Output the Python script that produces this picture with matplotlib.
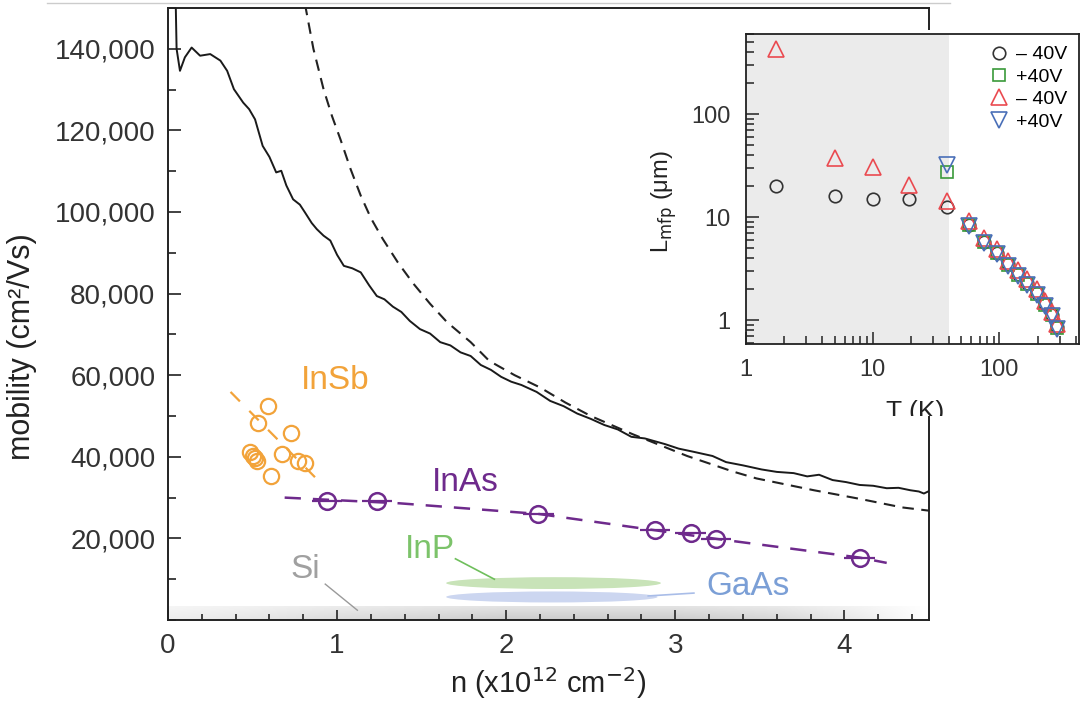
import numpy as np
import matplotlib.pyplot as plt
from matplotlib.patches import Ellipse, Rectangle
from matplotlib.lines import Line2D
from matplotlib.ticker import MultipleLocator, FuncFormatter, NullFormatter, LogLocator
from matplotlib.transforms import Bbox, TransformedBbox

plt.rcParams['font.family'] = ['Liberation Sans', 'DejaVu Sans']

# measured mobility vs carrier density (solid curve)
n_meas = [0.046, 0.051, 0.071, 0.10, 0.14, 0.19, 0.25, 0.31, 0.35, 0.39, 0.445, 0.48,
          0.515, 0.56, 0.60, 0.64, 0.67, 0.70, 0.74, 0.78, 0.81, 0.85, 0.88, 0.92,
          0.96, 1.00, 1.04, 1.09, 1.14, 1.19, 1.235, 1.28, 1.33, 1.38, 1.43, 1.49,
          1.55, 1.61, 1.67, 1.73, 1.79, 1.85, 1.91, 1.97, 2.03, 2.09, 2.18, 2.26,
          2.34, 2.42, 2.50, 2.58, 2.66, 2.74, 2.82, 2.94, 3.02, 3.10, 3.22, 3.30,
          3.40, 3.51, 3.60, 3.70, 3.78, 3.85, 3.93, 4.01, 4.09, 4.17, 4.25, 4.32,
          4.39, 4.44, 4.47, 4.50]
mu_meas = [151000, 140000, 134600, 137900, 140300, 138300, 138700, 137100, 134600,
           130100, 126800, 125200, 122700, 116200, 113500, 109700, 110100, 106500,
           103100, 101800, 99900, 97300, 95800, 94200, 93000, 89500, 86800, 86200,
           85200, 82000, 79400, 78600, 76800, 75500, 73300, 71300, 70200, 68100,
           67300, 65600, 64700, 62500, 61300, 59600, 58400, 57600, 55900, 53700,
           52400, 50600, 49300, 47800, 46700, 44900, 44500, 43100, 42000, 41300,
           40200, 38700, 37900, 36900, 36300, 36000, 35200, 35600, 34300, 33800,
           33100, 32900, 32300, 32400, 31800, 31500, 31000, 31600]

# model curve (dashed)
n_model = [0.81, 0.86, 0.92, 0.97, 1.02, 1.08, 1.14, 1.20, 1.27, 1.36, 1.45, 1.55,
           1.65, 1.79, 1.90, 2.05, 2.20, 2.35, 2.50, 2.75, 3.07, 3.34, 3.48, 3.82,
           4.09, 4.34, 4.50]
mu_model = [151000, 140000, 130100, 123500, 117800, 110500, 104000, 98500, 93400,
            87600, 82500, 77500, 73000, 68100, 63500, 60000, 57000, 53300, 50000,
            45500, 40200, 36400, 34700, 31800, 29700, 27600, 26800]

# InAs
n_inas = [0.94, 1.235, 2.19, 2.88, 3.09, 3.24, 4.09]
mu_inas = [29200, 29200, 26000, 22000, 21400, 19800, 15300]
n_inas_line = [0.69, 1.37, 2.19, 2.88, 3.24, 4.09, 4.25]
mu_inas_line = [30000, 28600, 26000, 22000, 19900, 15300, 14000]

# InSb
n_insb = [0.594, 0.534, 0.73, 0.485, 0.515, 0.525, 0.50, 0.673, 0.771, 0.81, 0.61]
mu_insb = [52500, 48400, 45900, 41100, 39800, 39000, 40300, 40700, 39000, 38600, 35300]
n_insb_line = [0.37, 0.91]
mu_insb_line = [55900, 33300]

# inset: mean free path vs temperature
T_low = [1.72, 5.04, 10.0, 19.5, 38.4]
T_high = [58, 75, 95, 116, 141, 166, 197, 229, 259, 283]
circ_low = [20.0, 16.2, 15.1, 15.1, 12.7]
circ_high = [8.5, 5.8, 4.55, 3.5, 2.8, 2.3, 1.85, 1.43, 1.14, 0.86]
tri_up_low = [430, 37.8, 31.0, 20.6, 14.5]
tri_up_high = [9.3, 6.3, 4.95, 3.8, 3.05, 2.5, 2.0, 1.55, 1.22, 0.93]
T_pos = [38.4] + T_high
square_v = [27.4, 8.4, 5.7, 4.5, 3.45, 2.75, 2.25, 1.8, 1.4, 1.12, 0.85]
tri_down_v = [32.5, 8.2, 5.6, 4.4, 3.4, 2.7, 2.22, 1.78, 1.38, 1.1, 0.83]

fig = plt.figure(figsize=(10.85, 7.06), dpi=100)
ax = fig.add_axes([0.1548, 0.1218, 0.7014, 0.8669])

# Si band: grey gradient along the bottom
xs = np.linspace(0, 4.5, 300)
row = np.interp(xs, [0, 0.5, 1.0, 2.0, 3.0, 3.6, 4.1, 4.5],
                [0.93, 0.9, 0.86, 0.8, 0.8, 0.84, 0.92, 1.0])
vfade = np.linspace(1.0, 0.55, 20)
grad = 1 - (1 - row)[None, :] * vfade[:, None]
ax.imshow(grad, extent=(0, 4.5, 0, 3300), origin='lower', aspect='auto',
          cmap='gray', vmin=0, vmax=1, interpolation='bicubic', zorder=0.5)

# InP / GaAs ranges
ax.add_patch(Ellipse((2.28, 9050), 1.27, 2900, color='#c8e3b8', lw=0, zorder=1))
ax.add_patch(Ellipse((2.27, 5650), 1.25, 2700, color='#ccd6f0', lw=0, zorder=1))
ax.plot([2.84, 3.11], [5900, 6600], color='#a9bde8', lw=1.2, zorder=1)
ax.plot([1.70, 1.93], [15000, 10000], color='#6fbf5c', lw=1.2, zorder=1)
ax.plot([0.93, 1.12], [8800, 2400], color='#9a9a9a', lw=1.0, zorder=1)

ax.plot(n_model, mu_model, color='#222222', lw=1.5, dashes=(5.5, 3.6), zorder=3)
ax.plot(n_meas, mu_meas, color='#1a1a1a', lw=1.4, zorder=4)

ax.plot(n_inas_line, mu_inas_line, color='#6e2a8c', lw=1.8, dashes=(6.5, 4.8), zorder=3)
ax.errorbar(n_inas, mu_inas, xerr=0.09, fmt='o', ms=12, mfc='none', mec='#6e2a8c',
            mew=1.8, ecolor='#6e2a8c', elinewidth=1.6, capsize=0, zorder=4)

ax.plot(n_insb_line, mu_insb_line, color='#f2a33a', lw=1.6, dashes=(6, 6), zorder=3)
ax.plot(n_insb, mu_insb, 'o', ms=11, mfc='none', mec='#f2a33a', mew=1.6, zorder=4)

ax.text(0.99, 58600, 'InSb', color='#f2a33a', fontsize=24, ha='center', va='center')
ax.text(1.76, 33600, 'InAs', color='#6e2a8c', fontsize=24, ha='center', va='center')
ax.text(1.55, 17200, 'InP', color='#7cc36a', fontsize=24, ha='center', va='center')
ax.text(3.43, 8100, 'GaAs', color='#7b9fd6', fontsize=24, ha='center', va='center')
ax.text(0.81, 12300, 'Si', color='#a0a0a0', fontsize=24, ha='center', va='center')

ax.set_xlim(0, 4.5)
ax.set_ylim(0, 150000)
ax.set_xticks([0, 1, 2, 3, 4])
ax.xaxis.set_minor_locator(MultipleLocator(0.2))
ax.set_yticks([20000, 40000, 60000, 80000, 100000, 120000, 140000])
ax.yaxis.set_minor_locator(MultipleLocator(10000))
ax.yaxis.set_major_formatter(FuncFormatter(lambda v, p: f'{int(v):,}'))
ax.tick_params(axis='both', which='both', direction='in', colors='#333333',
               labelsize=20, width=1.3)
ax.tick_params(axis='x', which='major', length=7.5, pad=9)
ax.tick_params(axis='x', which='minor', length=4)
ax.tick_params(axis='y', which='major', length=9.5, pad=9)
ax.tick_params(axis='y', which='minor', length=6)
for s in ax.spines.values():
    s.set_linewidth(1.4)
    s.set_color('#222222')
ax.set_xlabel('n (x10$^{12}$ cm$^{-2}$)', fontsize=21, color='#222222', va='center')
ax.set_ylabel('mobility (cm²/Vs)', fontsize=22, color='#222222')
ax.xaxis.set_label_coords(0.5, -0.103)
ax.yaxis.set_label_coords(-0.172, 0.446)

# white box behind the inset
fig.add_artist(Rectangle((0.599, 0.4108), 0.401, 0.5467, transform=fig.transFigure,
                         color='white', lw=0, zorder=2))
fig.add_artist(Line2D([0.043, 0.876], [0.9958, 0.9958], transform=fig.transFigure,
                      color='#cccccc', lw=1.0, zorder=2))

# inset
axi = fig.add_axes([0.6876, 0.5127, 0.3069, 0.4391], zorder=3)
axi.set_xscale('log')
axi.set_yscale('log')
axi.axvspan(1, 40, color='#ebebeb', lw=0, zorder=0)
axi.plot(T_low + T_high, circ_low + circ_high, 'o', ms=9, mfc='none', mec='#333333',
         mew=1.2, label='– 40V')
axi.plot(T_pos, square_v, 's', ms=8, mfc='none', mec='#3a9a3a', mew=1.2, label='+40V')
axi.plot(T_low + T_high, tri_up_low + tri_up_high, '^', ms=11, mfc='none',
         mec='#ea4a50', mew=1.2, label='– 40V')
axi.plot(T_pos, tri_down_v, 'v', ms=11, mfc='none', mec='#4a6fb8', mew=1.2, label='+40V')
axi.set_xlim(1, 425)
axi.set_ylim(0.59, 600)
axi.xaxis.set_major_locator(LogLocator(base=10, numticks=5))
axi.xaxis.set_major_formatter(FuncFormatter(lambda v, p: f'{v:g}'))
axi.yaxis.set_major_formatter(FuncFormatter(lambda v, p: f'{v:g}'))
axi.xaxis.set_minor_formatter(NullFormatter())
axi.yaxis.set_minor_formatter(NullFormatter())
axi.tick_params(axis='both', which='both', direction='in', colors='#333333',
                labelsize=17, width=1.2, pad=11)
axi.tick_params(which='major', length=9)
axi.tick_params(which='minor', length=5.5)
for s in axi.spines.values():
    s.set_linewidth(1.3)
    s.set_color('#222222')
axi.set_ylabel('L$_{\\rm mfp}$ (μm)', fontsize=17, color='#222222')
axi.yaxis.set_label_coords(-0.2, 0.46)
xl = axi.set_xlabel('T (K)', fontsize=19, color='#222222', va='top')
axi.xaxis.set_label_coords(0.507, -0.181)
xl.set_clip_box(TransformedBbox(Bbox([[0, 0.4108], [1, 1]]), fig.transFigure))
xl.set_clip_on(True)
axi.legend(loc='upper right', frameon=False, fontsize=14, handletextpad=0.3,
           borderaxespad=0.2, labelspacing=0.25, handlelength=1.2)

fig.savefig('out.png', dpi=100)
